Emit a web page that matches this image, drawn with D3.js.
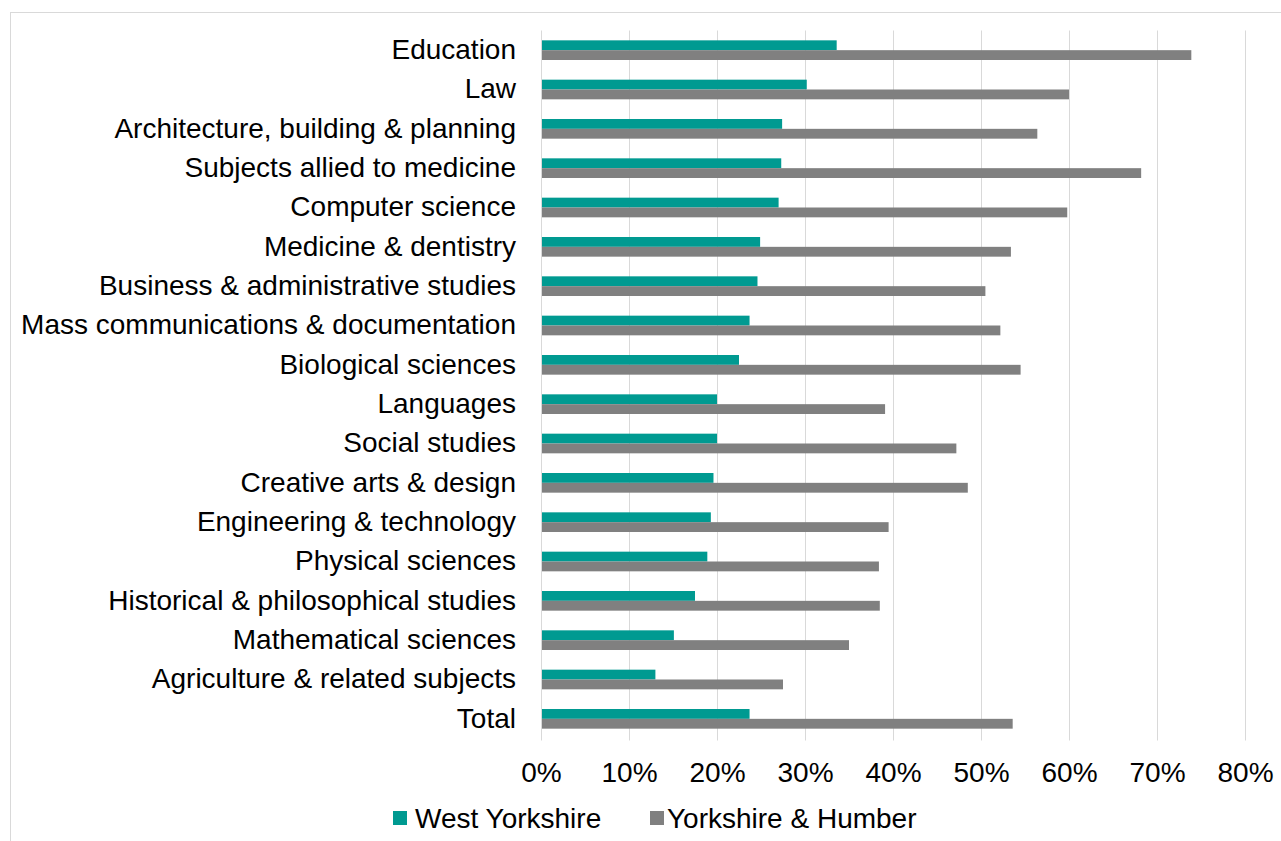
<!DOCTYPE html>
<html>
<head>
<meta charset="utf-8">
<script src="https://cdn.jsdelivr.net/npm/d3@7"></script>
<style>
  html, body { margin: 0; padding: 0; background: #ffffff; }
  svg { display: block; font-family: "Liberation Sans", Arial, sans-serif; }
</style>
</head>
<body>
<svg id="chart" width="1281" height="841"></svg>
<script>
const categories = [
  "Education",
  "Law",
  "Architecture, building & planning",
  "Subjects allied to medicine",
  "Computer science",
  "Medicine & dentistry",
  "Business & administrative studies",
  "Mass communications & documentation",
  "Biological sciences",
  "Languages",
  "Social studies",
  "Creative arts & design",
  "Engineering & technology",
  "Physical sciences",
  "Historical & philosophical studies",
  "Mathematical sciences",
  "Agriculture & related subjects",
  "Total"
];
const westYorkshire = [33.6, 30.2, 27.4, 27.3, 27.0, 24.9, 24.6, 23.7, 22.5, 20.0, 20.0, 19.6, 19.3, 18.9, 17.5, 15.1, 13.0, 23.7];
const yorkshireHumber = [73.9, 60.0, 56.4, 68.2, 59.8, 53.4, 50.5, 52.2, 54.5, 39.1, 47.2, 48.5, 39.5, 38.4, 38.5, 35.0, 27.5, 53.6];
const seriesNames = ["West Yorkshire", "Yorkshire & Humber"];
const tickValues = [0, 10, 20, 30, 40, 50, 60, 70, 80];

const colors = ["#009a91", "#808080"];
const FONT = 28;

const svg = d3.select("#chart");

// outer chart border
svg.append("rect")
  .attr("x", 10.5).attr("y", 12.5)
  .attr("width", 1290).attr("height", 840)
  .attr("fill", "none").attr("stroke", "#d9d9d9").attr("stroke-width", 1);

const plotLeft = 541, plotRight = 1245, plotTop = 30.5, plotBottom = 738.5;

const x = d3.scaleLinear().domain([0, 80]).range([plotLeft, plotRight]);
const y = d3.scaleBand().domain(categories).range([plotTop, plotBottom])
  .paddingInner(0.5).paddingOuter(0.25);
const ySub = d3.scaleBand().domain(seriesNames).range([0, y.bandwidth()]);

// gridlines
svg.append("g").selectAll("line")
  .data(tickValues)
  .join("line")
  .attr("x1", d => Math.round(x(d)) + 0.5)
  .attr("x2", d => Math.round(x(d)) + 0.5)
  .attr("y1", plotTop).attr("y2", plotBottom + 2)
  .attr("stroke", "#d9d9d9").attr("stroke-width", 1);

// bars
const series = [westYorkshire, yorkshireHumber];
series.forEach((vals, si) => {
  svg.append("g").selectAll("rect")
    .data(categories.map((c, i) => ({ c, v: vals[i] })))
    .join("rect")
    .attr("x", x(0) + 1)
    .attr("y", d => y(d.c) + ySub(seriesNames[si]))
    .attr("width", d => x(d.v) - x(0) - 1)
    .attr("height", ySub.bandwidth())
    .attr("fill", colors[si]);
});

// category labels
const yAxis = d3.axisLeft(y).tickSize(0).tickPadding(25);
const gy = svg.append("g").attr("transform", `translate(${plotLeft},0)`).call(yAxis);
gy.select(".domain").remove();
gy.selectAll("text")
  .attr("font-size", FONT)
  .attr("fill", "#000")
  .style("font-family", "'Liberation Sans', Arial, sans-serif");

// x axis labels
const xAxis = d3.axisBottom(x).tickValues(tickValues).tickFormat(d => d + "%").tickSize(0).tickPadding(24);
const gx = svg.append("g").attr("transform", `translate(0,${plotBottom})`).call(xAxis);
gx.select(".domain").remove();
gx.selectAll("text")
  .attr("font-size", FONT)
  .attr("fill", "#000")
  .style("font-family", "'Liberation Sans', Arial, sans-serif");

// legend
const legendItems = [
  { name: seriesNames[0], color: colors[0], x: 393, tx: 415 },
  { name: seriesNames[1], color: colors[1], x: 650, tx: 667 }
];
const lg = svg.append("g");
legendItems.forEach(it => {
  lg.append("rect").attr("x", it.x).attr("y", 811).attr("width", 14).attr("height", 14).attr("fill", it.color);
  lg.append("text").attr("x", it.tx).attr("y", 818).attr("dy", "0.35em")
    .attr("font-size", FONT).attr("fill", "#000").text(it.name);
});
</script>
</body>
</html>
